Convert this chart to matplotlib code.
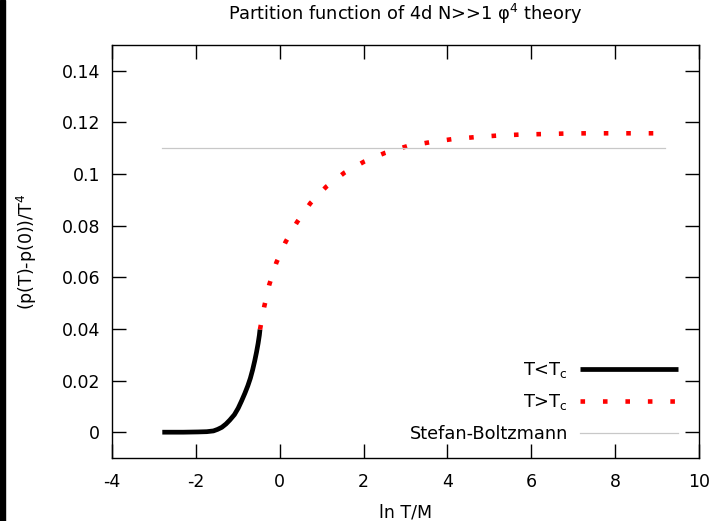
import numpy as np
import matplotlib.pyplot as plt
from matplotlib.patches import Rectangle

plt.rcParams['axes.unicode_minus'] = False

# T < Tc branch (solid black)
low_x = [-2.80, -2.30, -1.95, -1.74, -1.58, -1.48, -1.38, -1.28, -1.19, -1.08, -0.99,
         -0.91, -0.83, -0.76, -0.70, -0.645, -0.595, -0.553, -0.515, -0.485, -0.47]
low_y = [0.0, 0.0, 0.0001, 0.0002, 0.0005, 0.0011, 0.0019, 0.0032, 0.0047, 0.0068, 0.0093,
         0.0121, 0.0151, 0.0180, 0.0209, 0.0242, 0.0277, 0.0310, 0.0344, 0.0376, 0.0398]

# T > Tc branch (red dotted)
high_x = [-0.47, -0.37, -0.25, -0.08, 0.14, 0.41, 0.73, 1.11, 1.54, 2.01, 2.51, 3.04,
          3.57, 4.10, 4.65, 5.18, 5.73, 6.27, 6.81, 7.35, 7.89, 8.44, 8.98, 9.20]
high_y = [0.0398, 0.0486, 0.0571, 0.0657, 0.0737, 0.0813, 0.0887, 0.0951, 0.1005, 0.1048,
          0.1082, 0.1108, 0.1123, 0.1135, 0.1143, 0.1149, 0.1153, 0.1155, 0.1157, 0.1158,
          0.1158, 0.1158, 0.1158, 0.1158]

# Stefan-Boltzmann limit
sb_x = [-2.80, 9.20]
sb_y = [0.11, 0.11]

xticks = np.arange(-4, 11, 2)
yticks = np.arange(0, 0.141, 0.02)

fig = plt.figure(figsize=(7.16, 5.21), dpi=100)
ax = fig.add_axes([0.1564, 0.1209, 0.8199, 0.7927])

ax.plot(low_x, low_y, color='black', lw=3.4, solid_capstyle='butt', solid_joinstyle='round',
        label='T<T$_\\mathregular{c}$')
ax.plot(high_x, high_y, color='red', lw=3.3, linestyle=(0, (1, 3.9)), dash_capstyle='butt',
        label='T>T$_\\mathregular{c}$')
ax.plot(sb_x, sb_y, color='#c8c8c8', lw=0.9, label='Stefan-Boltzmann')

ax.set_xlim(-4, 10)
ax.set_ylim(-0.01, 0.15)
ax.set_xticks(xticks)
ax.set_yticks(yticks)
ax.set_yticklabels(['%g' % round(v, 2) for v in yticks])
ax.tick_params(direction='in', length=10, width=1, top=True, right=True, labelsize=12.5)
ax.tick_params(axis='x', pad=10.5)
ax.tick_params(axis='y', pad=8.5)
for s in ax.spines.values():
    s.set_linewidth(1)

ax.set_title('Partition function of 4d N>>1 \u03c6$^\\mathregular{4}$ theory', fontsize=12.8, pad=18)
ax.set_xlabel('ln T/M', fontsize=12.5, labelpad=9)
ax.set_ylabel('(p(T)-p(0))/T$^\\mathregular{4}$', fontsize=12.5, labelpad=16)

leg = ax.legend(loc='lower right', frameon=False, markerfirst=False, fontsize=12.8,
                handlelength=5.5, handletextpad=0.7, labelspacing=0.7,
                borderaxespad=0.45, bbox_to_anchor=(0.99, 0.0))

# dark strip along the left edge of the picture
fig.patches.append(Rectangle((0, 0), 5 / 716, 1, transform=fig.transFigure, color='black'))

fig.savefig('out.png', dpi=100)
